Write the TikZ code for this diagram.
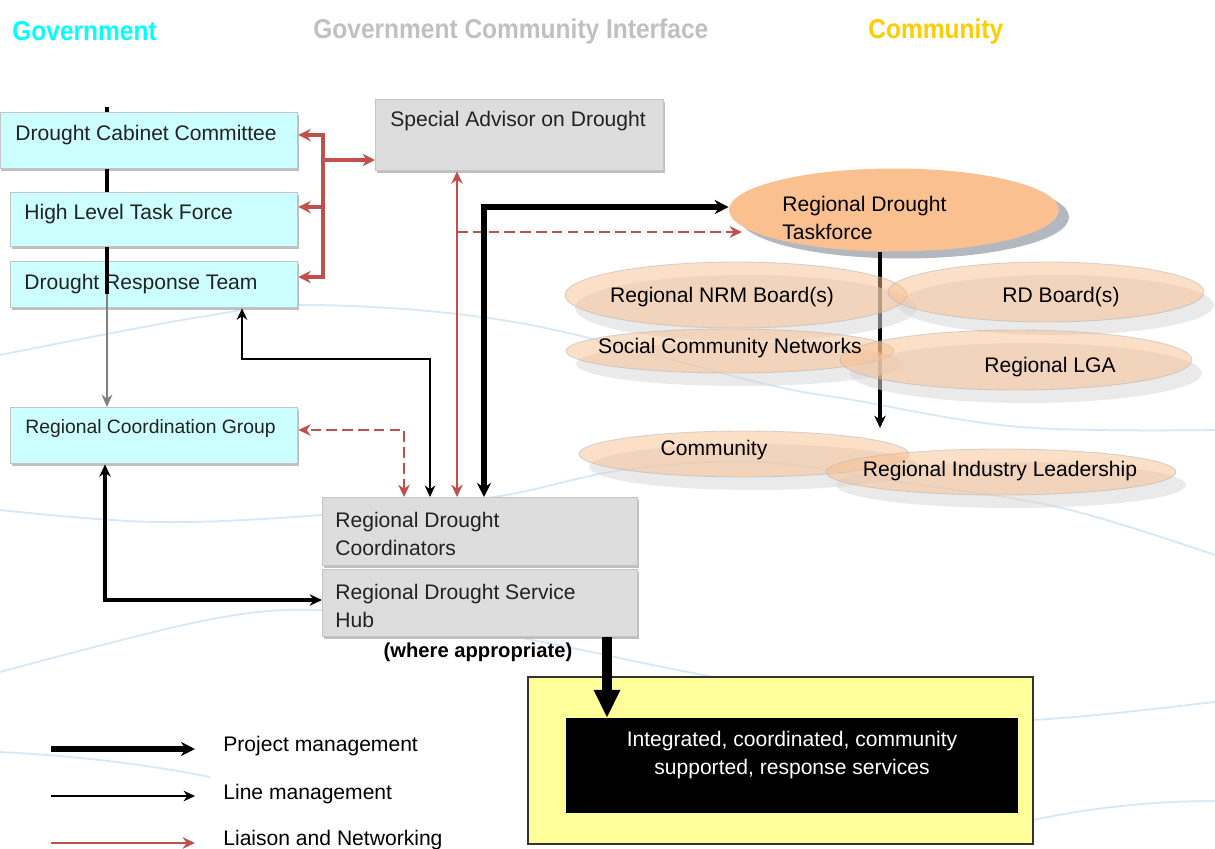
\documentclass[tikz,border=0pt]{standalone}
\usepackage{fontspec}
\setmainfont{Liberation Sans}
\newfontfamily\headfont[FakeStretch=0.9]{Liberation Sans}
\usetikzlibrary{arrows.meta,shapes.geometric,shadows}

\definecolor{govcyan}{HTML}{CCFFFF}
\definecolor{headcyan}{HTML}{00FFFF}
\definecolor{headgray}{HTML}{C0C0C0}
\definecolor{headgold}{HTML}{FFCC00}
\definecolor{panelgray}{HTML}{DDDDDD}
\definecolor{edgegray}{HTML}{C4C4C4}
\definecolor{liaisonred}{HTML}{C0504D}
\definecolor{peach}{HTML}{FAC090}
\definecolor{wavecol}{HTML}{D6E7F5}
\definecolor{outyellow}{HTML}{FFFF99}
\definecolor{inktext}{HTML}{222222}
\definecolor{tfshadow}{HTML}{B2B7C0}

\begin{document}
\begin{tikzpicture}[x=0.02cm,y=-0.02cm,
  wave/.style={draw=wavecol,line width=1pt},
  boxshadow/.style={fill=black!25,draw=none},
  govbox/.style={rectangle,anchor=north west,inner sep=0,fill=govcyan,draw=edgegray,line width=0.8pt},
  panelbox/.style={govbox,fill=panelgray},
  boxtext/.style={anchor=west,inner sep=0,text=inktext,align=left,font=\fontsize{12pt}{15.5pt}\selectfont},
  elltext/.style={inner sep=0,text=black,align=left,font=\fontsize{12pt}{16pt}\selectfont},
  headtext/.style={anchor=west,inner sep=0,font=\headfont\bfseries\fontsize{15.5pt}{18pt}\selectfont},
  ell/.style={ellipse,inner sep=0,fill=peach,fill opacity=0.5,draw=black!30,draw opacity=0.5,line width=0.5pt},
  ellshadow/.style={ellipse,inner sep=0,fill=black!15,fill opacity=0.55},
  govline/.style={line width=2.8pt,draw=black},
  grayarrow/.style={line width=1.7pt,draw=black!50,>={Stealth[length=7pt,width=6pt]},->},
  redbold/.style={line width=2.2pt,draw=liaisonred,>={Stealth[length=7pt,width=7pt]}},
  liaison/.style={line width=1.5pt,draw=liaisonred,>={Stealth[length=7pt,width=6.5pt]}},
  liaisondash/.style={liaison,dash pattern=on 6pt off 3pt},
  linemgmt/.style={line width=1.5pt,draw=black,>={Stealth[length=6.5pt,width=6pt]}},
  linemed/.style={line width=2.4pt,draw=black,>={Stealth[length=7pt,width=6.5pt]}},
  projlink/.style={line width=3pt,draw=black,>={Stealth[length=8pt,width=8pt]}},
  bigarrow/.style={line width=5.5pt,draw=black,>={Triangle[length=16pt,width=14pt]},->}]

\useasboundingbox (0,0) rectangle (1215,849);
\clip (0,0) rectangle (1215,849);
\fill[white] (0,0) rectangle (1215,849);

% faint wavy background lines
\draw[wave] plot[smooth,tension=0.6] coordinates {(0,355) (200,317) (317,305) (520,323) (761,383) (853,400) (1020,427) (1215,430)};
\draw[wave] plot[smooth,tension=0.6] coordinates {(0,510) (155,522) (322,515) (494,497) (623,470) (760,462) (900,482) (1062,508) (1215,555)};
\draw[wave] plot[smooth,tension=0.6] coordinates {(0,672) (207,620) (324,610) (450,625) (567,647) (693,673) (850,700)};
\draw[wave] (1033,720) .. controls (1100,716) and (1160,708) .. (1215,702);
\draw[wave] (0,752) .. controls (80,756) and (150,765) .. (210,777);
\draw[wave] (1033,820) .. controls (1100,806) and (1160,801) .. (1215,801);

% column headings
\node[headtext,text=headcyan] (hgov) at (12,31) {Government};
\node[headtext,text=headgray] (hint) at (313,31) {Government Community Interface};
\node[headtext,text=headgold] (hcom) at (868,31) {Community};

% regional drought taskforce
\node[ellipse,inner sep=0,fill=tfshadow,minimum width=6.6cm,minimum height=1.66cm] (rdtS) at (904,217) {};
\node[ellipse,inner sep=0,fill=peach,minimum width=6.6cm,minimum height=1.66cm] (rdt) at (894,210) {};
\node[elltext,anchor=west] (rdtT) at (782,218) {Regional Drought\\Taskforce};

\coordinate (tdown) at (880,428);
\draw[line width=2.2pt,>={Stealth[length=7pt,width=6.5pt]},->] (rdt.south -| tdown) -- (tdown);

% community ellipses: shadows first, then the fills
\node[ellshadow,minimum width=6.84cm,minimum height=1.32cm] (nrmS) at (746,308) {};
\node[ellshadow,minimum width=6.32cm,minimum height=1.2cm] (rdbS) at (1056,305) {};
\node[ellshadow,minimum width=6.56cm,minimum height=0.88cm] (scnS) at (740,364) {};
\node[ellshadow,minimum width=7.04cm,minimum height=1.2cm] (lgaS) at (1026,373) {};
\node[ellshadow,minimum width=6.6cm,minimum height=0.92cm] (comS) at (754,467) {};
\node[ellshadow,minimum width=7.0cm,minimum height=0.92cm] (rilS) at (1011,485) {};

\node[ell,minimum width=6.84cm,minimum height=1.32cm] (nrm) at (736,295) {};
\node[ell,minimum width=6.32cm,minimum height=1.2cm] (rdb) at (1046,292) {};
\node[ell,minimum width=6.56cm,minimum height=0.88cm] (scn) at (730,351) {};
\node[ell,minimum width=7.04cm,minimum height=1.2cm] (lga) at (1016,360) {};
\node[ell,minimum width=6.6cm,minimum height=0.92cm] (com) at (744,454) {};
\node[ell,minimum width=7.0cm,minimum height=0.92cm] (ril) at (1001,472) {};

\node[elltext] (nrmT) at (722,297) {Regional NRM Board(s)};
\node[elltext] (rdbT) at (1061,297) {RD Board(s)};
\node[elltext] (scnT) at (730,348) {Social Community Networks};
\node[elltext] (lgaT) at (1050,367) {Regional LGA};
\node[elltext] (comT) at (714,450) {Community};
\node[elltext] (rilT) at (1000,471) {Regional Industry Leadership};

% box shadows (offset copies below the boxes)
\fill[boxshadow] (1.5,115) rectangle (299,171);
\fill[boxshadow] (11.5,195) rectangle (299,249);
\fill[boxshadow] (11.5,264) rectangle (299,310);
\fill[boxshadow] (11.5,410) rectangle (299,466);
\fill[boxshadow] (376.5,102) rectangle (665,173);
\fill[boxshadow] (323.5,500) rectangle (639,568);
\fill[boxshadow] (323.5,572) rectangle (639,639);

% government column
\node[govbox,minimum width=5.94cm,minimum height=1.12cm] (dcc) at (0,112) {};
\node[govbox,minimum width=5.74cm,minimum height=1.08cm] (hltf) at (10,192) {};
\node[govbox,minimum width=5.74cm,minimum height=0.92cm] (drt) at (10,261) {};
\node[govbox,minimum width=5.74cm,minimum height=1.12cm] (rcg) at (10,407) {};
\node[boxtext] (dccT) at (15,135) {Drought Cabinet Committee};
\node[boxtext] (hltfT) at (24,214) {High Level Task Force};
\node[boxtext] (drtT) at (24,284) {Drought Response Team};
\node[boxtext,font=\fontsize{11pt}{13pt}\selectfont] (rcgT) at (25,428) {Regional Coordination Group};

% chain of command between the government boxes
\coordinate (gx) at (107,107);
\coordinate (gstop) at (107,294);
\draw[govline] (gx) -- (dcc.north -| gx);
\draw[govline] (dcc.south -| gx) -- (hltf.north -| gx);
\draw[govline] (hltf.south -| gx) -- (drt.north -| gx);
\draw[govline] (drt.north -| gx) -- (gstop);
\draw[grayarrow] (gstop) -- (rcg.north -| gx);

% interface column
\node[panelbox,minimum width=5.76cm,minimum height=1.42cm] (sad) at (375,99) {};
\node[boxtext] (sadT) at (390,121) {Special Advisor on Drought};
\node[panelbox,minimum width=6.3cm,minimum height=1.36cm] (rdc) at (322,497) {};
\node[boxtext] (rdcT) at (335,534) {Regional Drought\\Coordinators};
\node[panelbox,minimum width=6.3cm,minimum height=1.34cm] (rdsh) at (322,569) {};
\node[boxtext] (rdshT) at (335,606) {Regional Drought Service\\Hub};
\node[inner sep=0,text=black,font=\bfseries\fontsize{11.5pt}{13pt}\selectfont] (wapT) at (478,652) {(where appropriate)};

% outcome
\fill[black!60] (529,678) rectangle (1034,845);
\node[rectangle,anchor=north west,inner sep=0,fill=outyellow,draw=black!80,line width=1pt,
  minimum width=10.1cm,minimum height=3.34cm] (yel) at (527,676) {};
\node[rectangle,anchor=north west,inner sep=0,fill=black,minimum width=9.04cm,minimum height=1.9cm] (blk) at (566,718) {};
\node[inner sep=0,text=white,align=center,font=\fontsize{12pt}{16pt}\selectfont] (blkT) at (792,755)
  {Integrated, coordinated, community\\supported, response services};

% liaison bracket to the advisor
\coordinate (rk0) at (323,160);
\coordinate (rk1) at (323,135);
\coordinate (rk2) at (323,207);
\coordinate (rk3) at (323,277);
\draw[redbold,<->] (dcc.east |- rk1) -- (rk1) -- (rk3) -- (drt.east |- rk3);
\draw[redbold,->] (rk2) -- (hltf.east |- rk2);
\draw[redbold,->] (rk0) -- (sad.west |- rk0);

% links into the regional coordinators
\coordinate (rv) at (457,232);
\coordinate (rdtW) at (742,232);
\draw[liaison,<->] (rdc.north -| rv) -- (sad.south -| rv);
\draw[liaisondash,->] (rv) -- (rdtW);

\coordinate (pk) at (484,207);
\draw[projlink,<->] (rdc.north -| pk) -- (pk) -- (rdt.west |- pk);

\coordinate (lk1) at (430,359);
\coordinate (lk2) at (242,359);
\draw[linemgmt,<->] (rdc.north -| lk1) -- (lk1) -- (lk2) -- (drt.south -| lk2);

\coordinate (dk1) at (404,430);
\draw[liaisondash,<->] (rdc.north -| dk1) -- (dk1) -- (rcg.east |- dk1);

\coordinate (mk) at (105,600);
\draw[linemed,<->] (rdsh.west |- mk) -- (mk) -- (rcg.south -| mk);

\coordinate (bk) at (607,0);
\draw[bigarrow] (rdsh.south -| bk) -- (blk.north -| bk);

% legend
\coordinate (lg1a) at (51,749);
\coordinate (lg1b) at (195,749);
\coordinate (lg2a) at (51,796);
\coordinate (lg2b) at (195,796);
\coordinate (lg3a) at (51,843);
\coordinate (lg3b) at (195,843);
\draw[projlink,->] (lg1a) -- (lg1b);
\draw[linemgmt,->] (lg2a) -- (lg2b);
\draw[liaison,->] (lg3a) -- (lg3b);
\node[boxtext,text=black] (lg1T) at (223,746) {Project management};
\node[boxtext,text=black] (lg2T) at (223,794) {Line management};
\node[boxtext,text=black] (lg3T) at (223,840) {Liaison and Networking};

\end{tikzpicture}
\end{document}
